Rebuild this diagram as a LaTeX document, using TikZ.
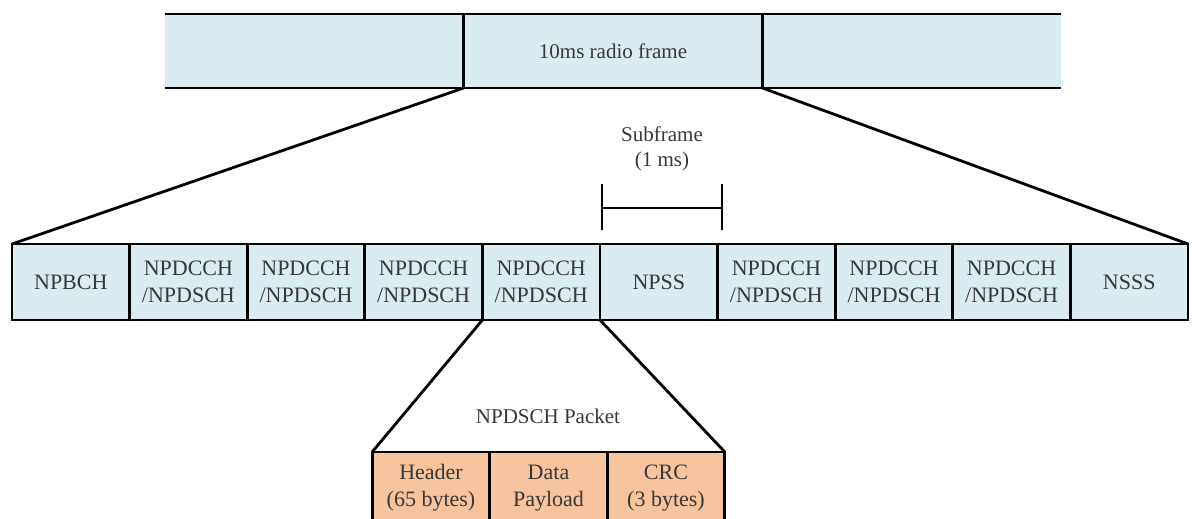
\documentclass[tikz,border=0pt]{standalone}
\usepackage{fontspec}
\setmainfont{LiberationSerif}[Extension=.ttf,UprightFont=*-Regular,BoldFont=*-Bold]
\definecolor{cellblue}{HTML}{DAEBF2}
\definecolor{cellorange}{HTML}{F8C49E}
\definecolor{txtgray}{HTML}{383838}
\begin{document}
\begin{tikzpicture}[x=1pt,y=-1pt,line width=2.8pt,
  frame/.style={fill=cellblue,minimum width=298.7pt,minimum height=74pt,inner sep=0pt,outer sep=0pt},
  cell/.style={draw=black,fill=cellblue,minimum width=117.6pt,minimum height=76pt,inner sep=0pt,outer sep=0pt,
    align=center,text=txtgray,font=\fontsize{22}{27}\selectfont},
  pcell/.style={cell,fill=cellorange,minimum width=117.7pt,minimum height=72pt},
  lbl/.style={text=txtgray,align=center,font=\fontsize{21}{25}\selectfont,inner sep=0pt}]
\useasboundingbox (0,0) rectangle (1192,519);
% top radio frame
\node[frame] (fl) at (314.3,51) {};
\node[frame] (fm) at (613,51) {};
\node[frame] (fr) at (911.7,51) {};
\node[lbl] (title) at (613,51) {10ms radio frame};
\draw (fl.north west) -- (fr.north east);
\draw (fl.south west) -- (fr.south east);
\draw (fm.north west) -- (fm.south west);
\draw (fm.north east) -- (fm.south east);
% subframes
\node[cell] (c1) at (70.8,282) {NPBCH};
\node[cell] (c2) at (188.4,282) {NPDCCH\\/NPDSCH};
\node[cell] (c3) at (306.0,282) {NPDCCH\\/NPDSCH};
\node[cell] (c4) at (423.6,282) {NPDCCH\\/NPDSCH};
\node[cell] (c5) at (541.2,282) {NPDCCH\\/NPDSCH};
\node[cell] (c6) at (658.8,282) {NPSS};
\node[cell] (c7) at (776.4,282) {NPDCCH\\/NPDSCH};
\node[cell] (c8) at (894.0,282) {NPDCCH\\/NPDSCH};
\node[cell] (c9) at (1011.6,282) {NPDCCH\\/NPDSCH};
\node[cell] (c10) at (1129.2,282) {NSSS};
\draw (fm.south west) -- (c1.north west);
\draw (fm.south east) -- (c10.north east);
% subframe bracket
\coordinate (b1) at (602,208);
\coordinate (b2) at (722,208);
\draw (b1) -- (b2);
\draw ([yshift=24pt]b1) -- ([yshift=-22pt]b1);
\draw ([yshift=24pt]b2) -- ([yshift=-22pt]b2);
\node[lbl] (sub) at (662,149) {Subframe\\(1 ms)};
% packet
\node[pcell] (p1) at (431,488) {Header\\(65 bytes)};
\node[pcell] (p2) at (548.5,488) {Data\\Payload};
\node[pcell] (p3) at (666,488) {CRC\\(3 bytes)};
\node[lbl] (pkt) at (548,416) {NPDSCH Packet};
\draw (c5.south west) -- (p1.north west);
\draw (c6.south west) -- (p3.north east);
\end{tikzpicture}
\end{document}
